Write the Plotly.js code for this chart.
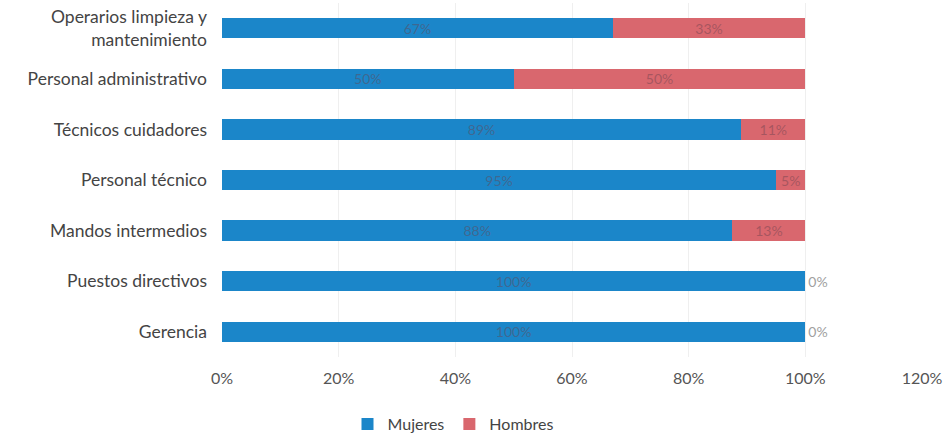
<!DOCTYPE html>
<html>
<head>
<meta charset="utf-8">
<script src="https://cdn.plot.ly/plotly-3.0.1.min.js"></script>
<style>html,body{margin:0;padding:0;background:#fff;}#chart{width:947px;height:435px;}</style>
</head>
<body>
<div id="chart"></div>
<script>
const categories = [
  "Operarios limpieza y<br>mantenimiento",
  "Personal administrativo",
  "Técnicos cuidadores",
  "Personal técnico",
  "Mandos intermedios",
  "Puestos directivos",
  "Gerencia"
];
const mujeres = [0.67, 0.50, 0.89, 0.95, 0.875, 1.00, 1.00];
const hombres = [0.33, 0.50, 0.11, 0.05, 0.125, 0.00, 0.00];
const mujeresLabels = ["67%", "50%", "89%", "95%", "88%", "100%", "100%"];
const hombresLabels = ["33%", "50%", "11%", "5%", "13%", "0%", "0%"];
const xTickVals = [0, 0.2, 0.4, 0.6, 0.8, 1.0, 1.2];
const xTickText = ["0%", "20%", "40%", "60%", "80%", "100%", "120%"];

const font = "Lato, 'Open Sans', sans-serif";
const traces = [
  {
    type: "bar", orientation: "h", name: "Mujeres",
    y: categories, x: mujeres, text: mujeresLabels,
    textposition: "inside", insidetextanchor: "middle", constraintext: "none",
    textfont: {family: font, size: 14, color: "rgba(80,90,120,0.7)"},
    marker: {color: "#1b86c9"}, width: 0.4, hoverinfo: "x+name"
  },
  {
    type: "bar", orientation: "h", name: "Hombres",
    y: categories, x: hombres, text: hombresLabels,
    textposition: hombres.map(v => v > 0 ? "inside" : "outside"),
    insidetextanchor: "middle", constraintext: "none", cliponaxis: false,
    textfont: {family: font, size: 14, color: "rgba(150,80,90,0.75)"},
    outsidetextfont: {family: font, size: 14, color: "#a0a0a0"},
    marker: {color: "#d9676e"}, width: 0.4, hoverinfo: "x+name"
  }
];

const layout = {
  width: 947, height: 435,
  margin: {l: 222, r: 25, t: 3, b: 78},
  barmode: "stack",
  paper_bgcolor: "#fff", plot_bgcolor: "#fff",
  font: {family: font, size: 16, color: "#444"},
  xaxis: {
    range: [0, 1.2], tickvals: xTickVals, ticktext: xTickText,
    showgrid: true, gridcolor: "#efefef", zeroline: false, showline: false,
    ticks: "", ticklabelstandoff: 10,
    tickfont: {family: font, size: 16, color: "#555"}
  },
  yaxis: {
    autorange: "reversed", showgrid: false, zeroline: false, showline: false,
    ticks: "", ticklabelstandoff: 14,
    tickfont: {family: font, size: 17.5, color: "#444"}
  },
  legend: {
    orientation: "h", x: 0.33, xanchor: "center",
    yref: "container", y: 0.025, yanchor: "middle",
    font: {family: font, size: 16, color: "#444"}, traceorder: "normal",
    itemwidth: 30
  },
  showlegend: true
};

Plotly.newPlot("chart", traces, layout, {displayModeBar: false, staticPlot: true});
</script>
</body>
</html>
